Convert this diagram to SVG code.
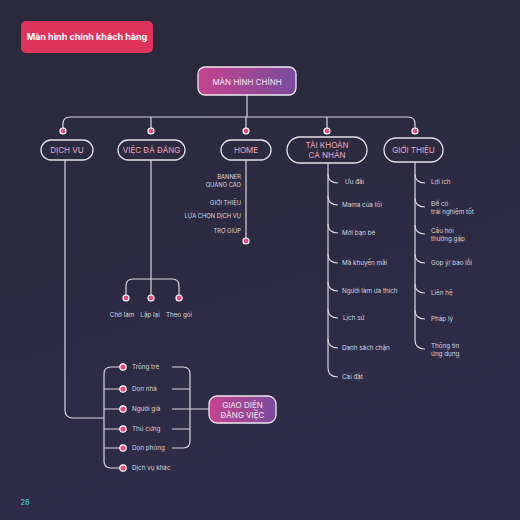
<svg xmlns="http://www.w3.org/2000/svg" width="520" height="520" viewBox="0 0 520 520">
<defs>
<linearGradient id="bg" x1="0" y1="0" x2="0.3" y2="1">
<stop offset="0" stop-color="#29293a"/>
<stop offset="1" stop-color="#2f2c49"/>
</linearGradient>
<linearGradient id="pp" x1="0" y1="0" x2="1" y2="0">
<stop offset="0" stop-color="#c4448e"/>
<stop offset="1" stop-color="#7b4b9c"/>
</linearGradient>
<style>
.ln{fill:none;stroke:#d9d6de;stroke-width:1.2}
.dot{fill:#e64a80;stroke:#fff;stroke-width:1.2}
.pill{fill:#2b2a3e;stroke:#e4e2e8;stroke-width:1.3}
.grad{fill:url(#pp);stroke:#f0e8f0;stroke-width:1.3}
.l1{font-family:Inter,"Noto Sans",sans-serif;font-size:8px;fill:#eea6c2;text-anchor:middle}
.gt{font-family:Inter,"Noto Sans",sans-serif;font-size:8px;fill:#f4e6f2;text-anchor:middle}
.it{font-family:Inter,"Noto Sans",sans-serif;font-size:6.3px;fill:#d8d6de}
.hm{font-family:Inter,"Noto Sans",sans-serif;font-size:5.8px;fill:#d8d6de;text-anchor:end}
.ct{text-anchor:middle}
</style>
</defs>
<rect width="520" height="520" fill="url(#bg)"/>

<g id="title">
<rect x="21" y="21" width="132" height="32" rx="5" fill="#e0335b"/>
<text x="87" y="40" font-family="Inter,'Noto Sans',sans-serif" font-size="9" font-weight="700" fill="#fff" text-anchor="middle">Màn hình chính khách hàng</text>
</g>

<g id="connectors">
<path class="ln" d="M247,95 V117"/>
<path class="ln" d="M63,128 V124 Q63,117 70,117 H408 Q415,117 415,124 V128"/>
<path class="ln" d="M151,117 V128 M246,117 V128 M327,117 V128"/>
<path class="ln" d="M65,160 V410 Q65,418 73,418 H104"/>
<path class="ln" d="M123,367 H111 Q104,367 104,374 V461 Q104,468 111,468 H123"/>
<path class="ln" d="M104,389 H123 M104,409 H123 M104,429 H123 M104,448 H123"/>
<path class="ln" d="M172,367 H183 Q190,367 190,374 V441 Q190,448 183,448 H172"/>
<path class="ln" d="M172,389 H190 M172,409 H209 M172,429 H190"/>
<path class="ln" d="M151,160 V295"/>
<path class="ln" d="M126,295 V286 Q126,279 133,279 H172 Q179,279 179,286 V295"/>
<path class="ln" d="M246,160 V238"/>
<path class="ln" d="M328,163 V368 Q328,377 338,377"/>
<path class="ln" d="M328,174 Q328,183 338,183 M328,196 Q328,205 338,205 M328,224 Q328,233 338,233 M328,254 Q328,263 338,263 M328,282 Q328,291 338,291 M328,309 Q328,318 338,318 M328,339 Q328,348 338,348"/>
<path class="ln" d="M415,162 V340 Q415,349 425,349"/>
<path class="ln" d="M415,174 Q415,183 425,183 M415,198 Q415,207 425,207 M415,225 Q415,234 425,234 M415,254 Q415,263 425,263 M415,284 Q415,293 425,293 M415,310 Q415,319 425,319"/>
</g>

<g id="dots">
<circle class="dot" cx="63" cy="131" r="3"/>
<circle class="dot" cx="151" cy="131" r="3"/>
<circle class="dot" cx="246" cy="131" r="3"/>
<circle class="dot" cx="327" cy="131" r="3"/>
<circle class="dot" cx="415" cy="131" r="3"/>
<circle class="dot" cx="246" cy="241" r="3"/>
<circle class="dot" cx="126" cy="298" r="3"/>
<circle class="dot" cx="151" cy="298" r="3"/>
<circle class="dot" cx="179" cy="298" r="3"/>
<circle class="dot" cx="123" cy="367" r="3.2"/>
<circle class="dot" cx="123" cy="389" r="3.2"/>
<circle class="dot" cx="123" cy="409" r="3.2"/>
<circle class="dot" cx="123" cy="429" r="3.2"/>
<circle class="dot" cx="123" cy="448" r="3.2"/>
<circle class="dot" cx="123" cy="468" r="3.2"/>
</g>

<g id="man-hinh-chinh">
<rect class="grad" x="198" y="67" width="98" height="28" rx="7"/>
<text class="gt" x="247" y="84.5">MÀN HÌNH CHÍNH</text>
</g>

<g id="dich-vu">
<rect class="pill" x="41" y="140" width="52" height="20" rx="10"/>
<text class="l1" x="67" y="153">DỊCH VỤ</text>
</g>
<g id="viec-da-dang">
<rect class="pill" x="118" y="140" width="67" height="20" rx="10"/>
<text class="l1" x="151.5" y="153">VIỆC ĐÃ ĐĂNG</text>
</g>
<g id="home">
<rect class="pill" x="221" y="140" width="50" height="20" rx="10"/>
<text class="l1" x="246" y="153">HOME</text>
</g>
<g id="tai-khoan">
<rect class="pill" x="287" y="137" width="80" height="26" rx="13"/>
<text class="l1" x="327" y="148">TÀI KHOẢN</text>
<text class="l1" x="327" y="158">CÁ NHÂN</text>
</g>
<g id="gioi-thieu">
<rect class="pill" x="384" y="138" width="59" height="24" rx="12"/>
<text class="l1" x="413.5" y="153">GIỚI THIỆU</text>
</g>

<g id="home-items">
<text class="hm" x="241" y="179">BANNER</text>
<text class="hm" x="241" y="187">QUẢNG CÁO</text>
<text class="hm" x="241" y="205">GIỚI THIỆU</text>
<text class="hm" x="241" y="218">LỰA CHỌN DỊCH VỤ</text>
<text class="hm" x="241" y="233">TRỢ GIÚP</text>
</g>

<g id="viec-items">
<text class="it ct" x="122" y="317">Chờ làm</text>
<text class="it ct" x="150" y="317">Lặp lại</text>
<text class="it ct" x="179" y="317">Theo gói</text>
</g>

<g id="tai-khoan-items">
<text class="it" x="345" y="184">Ưu đãi</text>
<text class="it" x="342" y="207">Mama của tôi</text>
<text class="it" x="342" y="235">Mời bạn bè</text>
<text class="it" x="342" y="265">Mã khuyến mãi</text>
<text class="it" x="342" y="293">Người làm ưa thích</text>
<text class="it" x="343" y="320">Lịch sử</text>
<text class="it" x="342" y="350">Danh sách chặn</text>
<text class="it" x="342" y="379">Cài đặt</text>
</g>

<g id="gioi-thieu-items">
<text class="it" x="431" y="184">Lợi ích</text>
<text class="it" x="431" y="206">Để có</text>
<text class="it" x="431" y="213.5">trải nghiệm tốt</text>
<text class="it" x="431" y="233">Câu hỏi</text>
<text class="it" x="431" y="240.5">thường gặp</text>
<text class="it" x="431" y="265">Góp ý/ báo lỗi</text>
<text class="it" x="431" y="295">Liên hệ</text>
<text class="it" x="431" y="321">Pháp lý</text>
<text class="it" x="431" y="348">Thông tin</text>
<text class="it" x="431" y="355.5">ứng dụng</text>
</g>

<g id="dich-vu-items">
<text class="it" x="132" y="369">Trông trẻ</text>
<text class="it" x="132" y="391">Dọn nhà</text>
<text class="it" x="132" y="411">Người già</text>
<text class="it" x="132" y="431">Thú cưng</text>
<text class="it" x="132" y="450">Dọn phòng</text>
<text class="it" x="132" y="470">Dịch vụ khác</text>
</g>

<g id="giao-dien-dang-viec">
<rect class="grad" x="209" y="396" width="67" height="27" rx="8"/>
<text class="gt" x="242.5" y="407.5">GIAO DIỆN</text>
<text class="gt" x="242.5" y="418">ĐĂNG VIỆC</text>
</g>

<text x="25" y="504.5" font-family="Inter,'Noto Sans',sans-serif" font-size="7" font-weight="700" fill="#3db4c6" text-anchor="middle">28</text>
</svg>
